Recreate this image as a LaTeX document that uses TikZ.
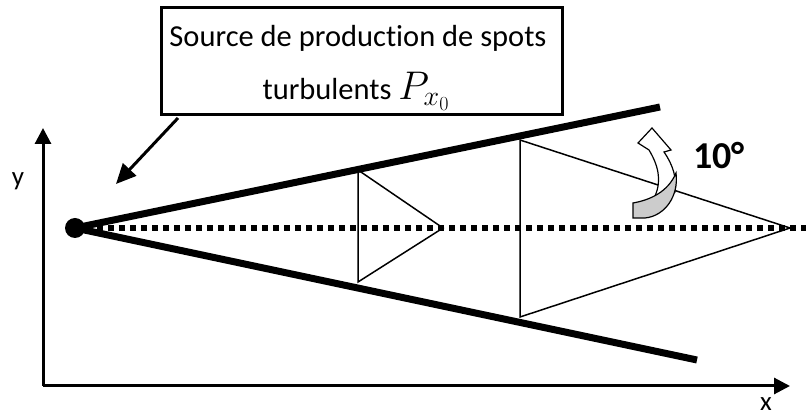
\RequirePackage{fix-cm}
\documentclass[tikz,border=0pt]{standalone}
\usepackage{fontspec}
\setmainfont{Carlito}[Ligatures=NoCommon]
\usetikzlibrary{arrows.meta}
\begin{document}
\begin{tikzpicture}[x=1pt,y=-1pt,
  thickline/.style={line width=7pt},
  axis/.style={line width=3pt,-{Triangle[length=16pt,width=16pt]}},
  tri/.style={line width=1.5pt,line join=miter},
  lbl/.style={font=\fontsize{27}{30}\selectfont}]
\useasboundingbox (0,0) rectangle (806,419);
% axes
\coordinate (O) at (43,386);
\coordinate (Y) at (43,128);
\coordinate (X) at (790,386);
\draw[axis] (O) -- (Y);
\draw[axis] (O) -- (X);
\node[lbl] (ylab) at (18,181) {y};
\node[lbl] (xlab) at (766,404) {x};
% source
\coordinate (S) at (75,228);
\coordinate (U) at (660,107);
\coordinate (L) at (697,360);
\coordinate (E) at (806,228);
\draw[thickline] (S) -- (U);
\draw[thickline] (S) -- (L);
\draw[line width=6pt,dash pattern=on 6pt off 5pt] (86,228) -- (E);
\fill (S) circle (10);
% triangles
\coordinate (a1) at (358,170);
\coordinate (a2) at (358,282);
\coordinate (a3) at (443,228);
\draw[tri] (a1) -- (a2) -- (a3) -- cycle;
\coordinate (b1) at (520,140);
\coordinate (b2) at (520,317);
\coordinate (b3) at (790,228);
\draw[tri] (b1) -- (b2) -- (b3) -- cycle;
% text box
\node[draw,line width=3pt,minimum width=401pt,minimum height=107pt,inner sep=0pt] (box) at (361.5,61.5) {};
\node[font=\fontsize{30.5}{32}\selectfont,anchor=base] (t1) at (358,47) {Source de production de spots};
\node[font=\fontsize{30.5}{32}\selectfont,anchor=base] (t2) at (356,100) {turbulents {\fontsize{40}{44}\selectfont$P_{x_0}$}};
\coordinate (bp) at (178,118);
\coordinate (tip) at (116,184);
\draw[line width=3pt,-{Triangle[length=20pt,width=18pt]}] (bp) -- (tip);
% curved arrow
\draw[line width=1.2pt,fill=white,line join=miter]
  (655,196) .. controls (662,180) and (658,165) .. (649,150)
  -- (638,143) -- (652,128) -- (671,150) -- (664,152)
  .. controls (673,165) and (677,178) .. (675,192) -- cycle;
\draw[line width=1.2pt,fill=black!20,line join=miter]
  (633,218) -- (633,203) .. controls (650,200) and (668,192) .. (676,173)
  .. controls (679,196) and (665,216) .. (645,218) -- cycle;
\node[font=\fontsize{38}{40}\selectfont\bfseries,anchor=base] (deg) at (719,169) {10°};
\end{tikzpicture}
\end{document}
